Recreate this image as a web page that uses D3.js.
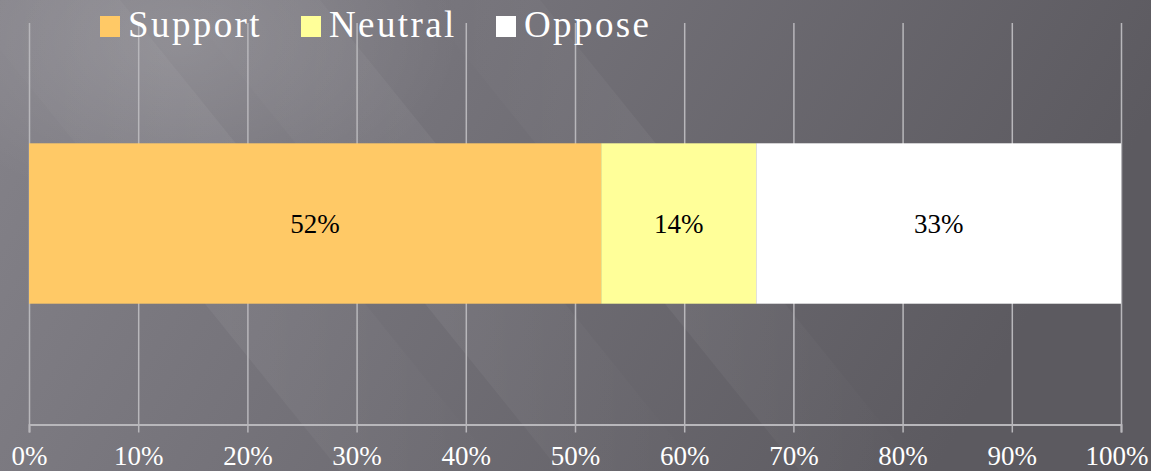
<!DOCTYPE html>
<html><head><meta charset="utf-8">
<script src="https://cdn.jsdelivr.net/npm/d3@7"></script>
<style>html,body{margin:0;padding:0;overflow:hidden;background:#6a686e}</style>
</head><body><svg id="c" width="1151" height="471"></svg>
<script>
const categories = ["Responses"];
const seriesNames = ["Support", "Neutral", "Oppose"];
const seriesValues = [0.524, 0.142, 0.334];
const seriesLabels = ["52%", "14%", "33%"];
const seriesColors = ["#FFC966", "#FFFF99", "#FFFFFF"];
const tickValues = [0, 0.1, 0.2, 0.3, 0.4, 0.5, 0.6, 0.7, 0.8, 0.9, 1.0];
const tickLabels = ["0%", "10%", "20%", "30%", "40%", "50%", "60%", "70%", "80%", "90%", "100%"];

const W = 1151, H = 471;
const svg = d3.select("#c");
const defs = svg.append("defs");
const bg = defs.append("linearGradient").attr("id", "bg").attr("x1", "0").attr("y1", "0").attr("x2", "1").attr("y2", "0.25");
bg.append("stop").attr("offset", "0").attr("stop-color", "#85838a");
bg.append("stop").attr("offset", "0.4").attr("stop-color", "#75737a");
bg.append("stop").attr("offset", "1").attr("stop-color", "#5c5a60");
svg.append("rect").attr("width", W).attr("height", H).attr("fill", "url(#bg)");
const streak = defs.append("linearGradient").attr("id", "st").attr("x1", "0").attr("y1", "0").attr("x2", "1").attr("y2", "0");
streak.append("stop").attr("offset", "0").attr("stop-color", "#fff").attr("stop-opacity", 0);
streak.append("stop").attr("offset", "0.5").attr("stop-color", "#fff").attr("stop-opacity", 0.05);
streak.append("stop").attr("offset", "1").attr("stop-color", "#fff").attr("stop-opacity", 0);
[[-40, 160], [180, 140], [420, 120]].forEach(([x0, w]) => {
  svg.append("polygon")
    .attr("points", `${x0},0 ${x0 + w},0 ${x0 + w + 380},${H} ${x0 + 380},${H}`)
    .attr("fill", "url(#st)");
});
const glow = defs.append("radialGradient").attr("id", "gl").attr("cx", "0.5").attr("cy", "0.5").attr("r", "0.5");
glow.append("stop").attr("offset", "0").attr("stop-color", "#fff").attr("stop-opacity", 0.14);
glow.append("stop").attr("offset", "1").attr("stop-color", "#fff").attr("stop-opacity", 0);
svg.append("ellipse").attr("cx", 180).attr("cy", 40).attr("rx", 280).attr("ry", 170).attr("fill", "url(#gl)");

const x = d3.scaleLinear().domain([0, 1]).range([29, 1121]);
const y = d3.scaleBand().domain(categories).range([23, 424]).paddingInner(0.6).paddingOuter(0.3);

const font = "'Liberation Serif','Times New Roman',serif";
const gridColor = "#b8b7bb";
svg.append("g").selectAll("line").data(tickValues).join("line")
  .attr("x1", d => x(d) + 0.5).attr("x2", d => x(d) + 0.5)
  .attr("y1", 23).attr("y2", 424)
  .attr("stroke", gridColor).attr("stroke-width", 1.5);

const axis = d3.axisBottom(x).tickValues(tickValues).tickFormat((d, i) => tickLabels[i]).tickSize(8).tickPadding(13);
const ag = svg.append("g").attr("transform", "translate(0,424.5)").call(axis);
ag.attr("font-family", null);
ag.select(".domain").attr("stroke", gridColor).attr("stroke-width", 2);
ag.selectAll(".tick line").attr("stroke", gridColor).attr("stroke-width", 1.5);
ag.selectAll(".tick text").attr("fill", "#ffffff").style("font-family", font).style("font-size", "27px");
ag.selectAll(".tick text").filter(d => d === 1).attr("text-anchor", "end").attr("x", 27);

const stackData = [];
let acc = 0;
seriesValues.forEach((v, i) => { stackData.push({ name: seriesNames[i], x0: acc, x1: acc + v, label: seriesLabels[i], color: seriesColors[i] }); acc += v; });
const yb = y(categories[0]);
const g = svg.append("g");
g.selectAll("rect").data(stackData).join("rect")
  .attr("x", d => x(d.x0)).attr("width", d => x(d.x1) - x(d.x0))
  .attr("y", yb).attr("height", y.bandwidth())
  .attr("fill", d => d.color);
g.selectAll("text").data(stackData).join("text")
  .attr("x", d => (x(d.x0) + x(d.x1)) / 2).attr("y", yb + y.bandwidth() / 2)
  .attr("dy", "0.35em").attr("text-anchor", "middle")
  .style("font-family", font).style("font-size", "27px").attr("fill", "#000")
  .text(d => d.label);

const legendX = [100, 301, 496];
const lg = svg.append("g");
seriesNames.forEach((n, i) => {
  lg.append("rect").attr("x", legendX[i]).attr("y", 16).attr("width", 20).attr("height", 21).attr("fill", seriesColors[i]);
  lg.append("text").attr("x", legendX[i] + 28).attr("y", 37).style("font-family", font).style("font-size", "37px")
    .style("letter-spacing", "2.4px").attr("fill", "#fff").text(n);
});
</script></body></html>
